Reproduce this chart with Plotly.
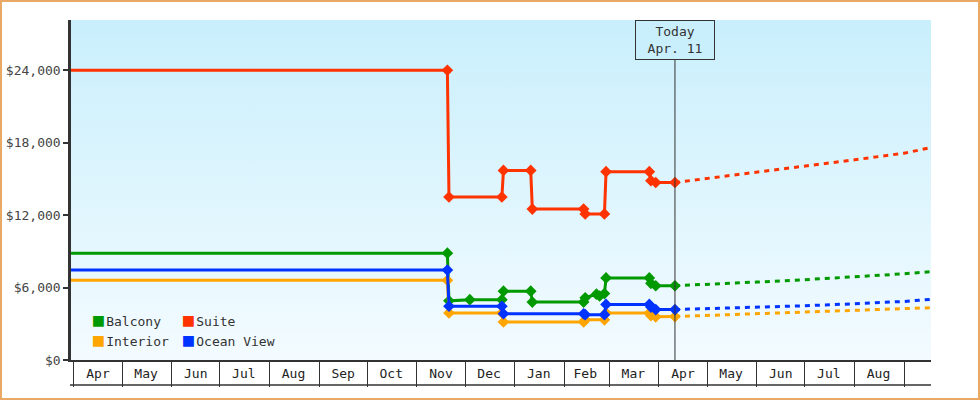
import base64
import plotly.graph_objects as go

# cabin price history
suite_dates = ["2014-03-30", "2014-11-20", "2014-11-21", "2014-12-24", "2014-12-25",
               "2015-01-11", "2015-01-12", "2015-02-13", "2015-02-14", "2015-02-26",
               "2015-02-27", "2015-03-26", "2015-03-27", "2015-03-30", "2015-04-11"]
suite_prices = [24000, 24000, 13500, 13500, 15700, 15700, 12500, 12500, 12100, 12100,
                15600, 15600, 14850, 14700, 14700]

balcony_dates = ["2014-03-30", "2014-11-20", "2014-11-21", "2014-12-04", "2014-12-24",
                 "2014-12-25", "2015-01-11", "2015-01-12", "2015-02-13", "2015-02-14",
                 "2015-02-21", "2015-02-23", "2015-02-26", "2015-02-27", "2015-03-26",
                 "2015-03-27", "2015-03-30", "2015-04-11"]
balcony_prices = [8850, 8850, 4900, 5000, 5000, 5700, 5700, 4800, 4800, 5150,
                  5450, 5300, 5500, 6800, 6800, 6350, 6150, 6150]

ocean_dates = ["2014-03-30", "2014-11-20", "2014-11-21", "2014-12-24", "2014-12-25",
               "2015-02-13", "2015-02-14", "2015-02-26", "2015-02-27", "2015-03-26",
               "2015-03-27", "2015-03-30", "2015-04-11"]
ocean_prices = [7450, 7450, 4450, 4450, 3830, 3830, 3750, 3750, 4600, 4600, 4380, 4180, 4180]

interior_dates = ocean_dates
interior_prices = [6600, 6600, 3900, 3900, 3150, 3150, 3330, 3330, 3900, 3900, 3670, 3580, 3600]

# forecast after today
forecast_dates = ["2015-04-11", "2015-05-01", "2015-06-01", "2015-07-01",
                  "2015-08-01", "2015-09-01", "2015-09-17"]
suite_forecast = [14700, 15030, 15560, 16020, 16580, 17130, 17570]
balcony_forecast = [6150, 6290, 6455, 6650, 6870, 7140, 7310]
ocean_forecast = [4180, 4245, 4350, 4490, 4660, 4850, 5015]
interior_forecast = [3600, 3690, 3810, 3940, 4100, 4245, 4330]

today = "2015-04-11"
today_label = "Today<br>Apr. 11"

month_mids = ["2014-04-16", "2014-05-16", "2014-06-16", "2014-07-16", "2014-08-16",
              "2014-09-16", "2014-10-16", "2014-11-16", "2014-12-16", "2015-01-16",
              "2015-02-14", "2015-03-16", "2015-04-16", "2015-05-16", "2015-06-16",
              "2015-07-16", "2015-08-16"]
month_labels = ["Apr", "May", "Jun", "Jul", "Aug", "Sep", "Oct", "Nov", "Dec", "Jan",
                "Feb", "Mar", "Apr", "May", "Jun", "Jul", "Aug"]
y_ticks = [0, 6000, 12000, 18000, 24000]
y_labels = ["$0", "$6,000", "$12,000", "$18,000", "$24,000"]

GREEN = "#009900"
RED = "#ff3300"
ORANGE = "#ffa500"
BLUE = "#0033ff"
INK = "#333333"
BG_TOP = "#c9effc"
BG_BOTTOM = "#f3fbff"
FONT = "DejaVu Sans Mono"

W, H = 980, 400
ML, MR, MT, MB = 71, 49, 20, 40
PW, PH = W - ML - MR, H - MT - MB

series = [
    ("Balcony", GREEN, balcony_dates, balcony_prices, balcony_forecast, "legend"),
    ("Interior", ORANGE, interior_dates, interior_prices, interior_forecast, "legend"),
    ("Suite", RED, suite_dates, suite_prices, suite_forecast, "legend2"),
    ("Ocean View", BLUE, ocean_dates, ocean_prices, ocean_forecast, "legend2"),
]

fig = go.Figure()
for name, color, d, p, fc, leg in series:
    fig.add_trace(go.Scatter(
        x=forecast_dates, y=fc, mode="lines", showlegend=False, hoverinfo="skip",
        line=dict(color=color, width=3, dash="5px,5px"), cliponaxis=False))
    fig.add_trace(go.Scatter(
        x=d, y=p, mode="lines+markers", name=name, showlegend=False,
        line=dict(color=color, width=3),
        marker=dict(symbol="diamond", size=9, color=color), cliponaxis=False))
    # legend entry: coloured square glyph right next to the name
    swatch = (f'<span style="color:{color};font-size:18px">\u25a0</span>'
              '<span style="font-size:4px"> </span>')
    fig.add_trace(go.Scatter(
        x=[None], y=[None], mode="markers", name=swatch + name, legend=leg,
        marker=dict(color="rgba(0,0,0,0)")))

grad = ('<svg xmlns="http://www.w3.org/2000/svg" width="10" height="100" '
        'preserveAspectRatio="none"><defs><linearGradient id="g" x1="0" y1="0" '
        f'x2="0" y2="1"><stop offset="0" stop-color="{BG_TOP}"/><stop offset="1" '
        f'stop-color="{BG_BOTTOM}"/></linearGradient></defs>'
        '<rect width="10" height="100" fill="url(#g)"/></svg>')
grad_uri = "data:image/svg+xml;base64," + base64.b64encode(grad.encode()).decode()

fig.update_layout(
    width=W, height=H,
    margin=dict(l=ML, r=MR, t=MT, b=MB, autoexpand=False),
    paper_bgcolor="white", plot_bgcolor="rgba(0,0,0,0)",
    font=dict(family=FONT, size=13, color=INK),
    images=[dict(source=grad_uri, xref="paper", yref="paper", x=0, y=1,
                 sizex=1, sizey=1, sizing="stretch", layer="below")],
    legend=dict(x=-0.021, y=0.16, xanchor="left", yanchor="top",
                bgcolor="rgba(0,0,0,0)", tracegroupgap=0, font=dict(size=13)),
    legend2=dict(x=0.0837, y=0.16, xanchor="left", yanchor="top",
                 bgcolor="rgba(0,0,0,0)", tracegroupgap=0, font=dict(size=13)),
    xaxis=dict(
        type="date", range=["2014-03-30 04:00", "2015-09-17 18:00"],
        tickmode="array", tickvals=month_mids, ticktext=month_labels,
        ticks="", showgrid=False, zeroline=False,
        showline=True, linecolor=INK, linewidth=2,
        minor=dict(ticks="outside", ticklen=25, tickwidth=1, tickcolor=INK,
                   dtick="M1", tick0="2014-04-01", showgrid=False),
        tickfont=dict(size=13, color="#222222"),
    ),
    yaxis=dict(
        range=[0, 28160], tickmode="array", tickvals=y_ticks, ticktext=y_labels,
        ticks="outside", ticklen=5, tickwidth=2, tickcolor=INK,
        showgrid=False, zeroline=False,
        showline=True, linecolor=INK, linewidth=2.5,
        tickfont=dict(size=13, color="#444444"),
    ),
    hovermode=False,
)

# bottom edge of the month boxes
fig.add_shape(type="line", xref="paper", yref="paper",
              x0=-1 / PW, x1=1, y0=-25 / PH, y1=-25 / PH,
              line=dict(color=INK, width=1.5))
# today marker line
fig.add_shape(type="line", xref="x", yref="paper", x0=today, x1=today, y0=0, y1=1,
              line=dict(color=INK, width=1), layer="above")
fig.add_annotation(x=today, xref="x", y=1, yref="paper", yanchor="top",
                   text=today_label, showarrow=False, width=72,
                   bordercolor=INK, borderwidth=1, borderpad=3, bgcolor=BG_TOP,
                   font=dict(size=13, color=INK))
# orange frame around the whole picture
fig.add_shape(type="rect", xref="paper", yref="paper",
              x0=(1 - ML) / PW, x1=(W - 1 - ML) / PW,
              y0=-(MB - 1) / PH, y1=1 + (MT - 1) / PH,
              line=dict(color="#e9a965", width=2))

# the page's default body margin would push the figure off its 0,0 corner
fig.write_html("out.html", config={"displayModeBar": False},
               post_script="document.body.style.margin='0';")
